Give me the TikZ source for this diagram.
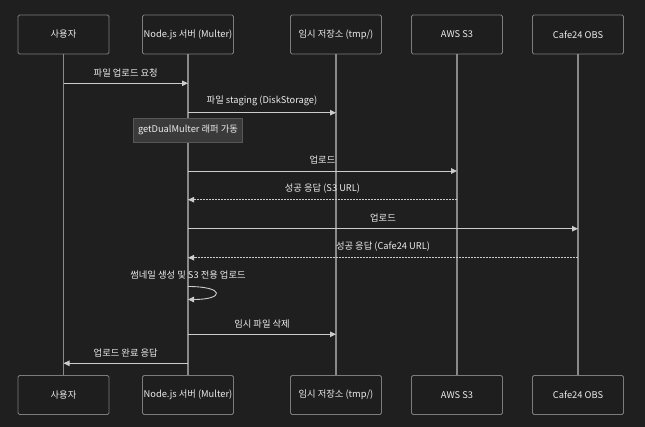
\documentclass[tikz,border=0pt]{standalone}
\usepackage{fontspec}
\setmainfont{Noto Sans CJK KR}
\usetikzlibrary{arrows.meta,calc}
\definecolor{bgcol}{HTML}{1F1F1F}
\definecolor{boxcol}{HTML}{1E1E1E}
\definecolor{edgecol}{HTML}{7C7C7C}
\definecolor{linecol}{HTML}{CCCCCC}
\definecolor{txtcol}{HTML}{ECECEC}
\definecolor{notecol}{HTML}{3A3A3A}
\tikzset{
  actor/.style={draw=edgecol,fill=boxcol,rounded corners=1.5pt,line width=0.8pt,
    minimum width=91pt,minimum height=39pt,inner sep=1pt,text=txtcol},
  life/.style={draw=edgecol!90!white,line width=1.3pt},
  msg/.style={draw=linecol,line width=0.9pt,-{Triangle[length=6pt,width=5.5pt]}},
  reply/.style={msg,dash pattern=on 2pt off 1pt},
  lbl/.style={text=txtcol,inner sep=0pt},
  memo/.style={draw=edgecol!70!black,fill=notecol,line width=0.6pt,text=txtcol,
    minimum width=109pt,minimum height=24pt,inner sep=1pt},
}

\begin{document}
\begin{tikzpicture}[x=1pt,y=-1pt,font=\fontsize{9.3}{11}\selectfont]
\useasboundingbox[fill=bgcol] (0,0) rectangle (645,427);
\foreach \n/\x/\t in {usr/63.5/{사용자}, srv/188/{Node.js 서버 (Multer)}, tmp/336/{임시 저장소 (tmp/)}, s3/457/{AWS S3}, obs/578/{Cafe24 OBS}}{
  \node[actor] (\n T) at (\x,34.5) {\t};
  \node[actor] (\n B) at (\x,395) {\t};
}
\foreach \n in {usr,srv,tmp,s3,obs}
  \draw[life] (\n T.south) -- (\n B.north);

\draw[msg] (usrT |- 0,83.3) -- node[lbl,above=6pt] {파일 업로드 요청} (srvT |- 0,83.3);
\draw[msg] (srvT |- 0,112.7) -- node[lbl,above=6pt] {파일 staging (DiskStorage)} (tmpT |- 0,112.7);
\node[memo] (note) at (srvT |- 0,130) {getDualMulter 래퍼 가동};
\draw[msg] (srvT |- 0,171) -- node[lbl,above=6pt] {업로드} (s3T |- 0,171);
\draw[reply] (s3T |- 0,199.7) -- node[lbl,above=6pt] {성공 응답 (S3 URL)} (srvT |- 0,199.7);
\draw[msg] (srvT |- 0,228.7) -- node[lbl,above=6pt] {업로드} (obsT |- 0,228.7);
\draw[reply] (obsT |- 0,257.7) -- node[lbl,above=6pt] {성공 응답 (Cafe24 URL)} (srvT |- 0,257.7);
\node[lbl] (loopT) at (srvT |- 0,275.5) {썸네일 생성 및 S3 전용 업로드};
\coordinate (loopA) at (srvT |- 0,286.5);
\coordinate (loopB) at (srvT |- 0,299.5);
\draw[msg] (loopA) .. controls ($(loopA)+(37,0)$) and ($(loopB)+(37,0)$) .. (loopB);
\draw[msg] (srvT |- 0,334.3) -- node[lbl,above=6pt] {임시 파일 삭제} (tmpT |- 0,334.3);
\draw[msg] (srvT |- 0,363.3) -- node[lbl,above=6pt] {업로드 완료 응답} (usrT |- 0,363.3);
\end{tikzpicture}
\end{document}
